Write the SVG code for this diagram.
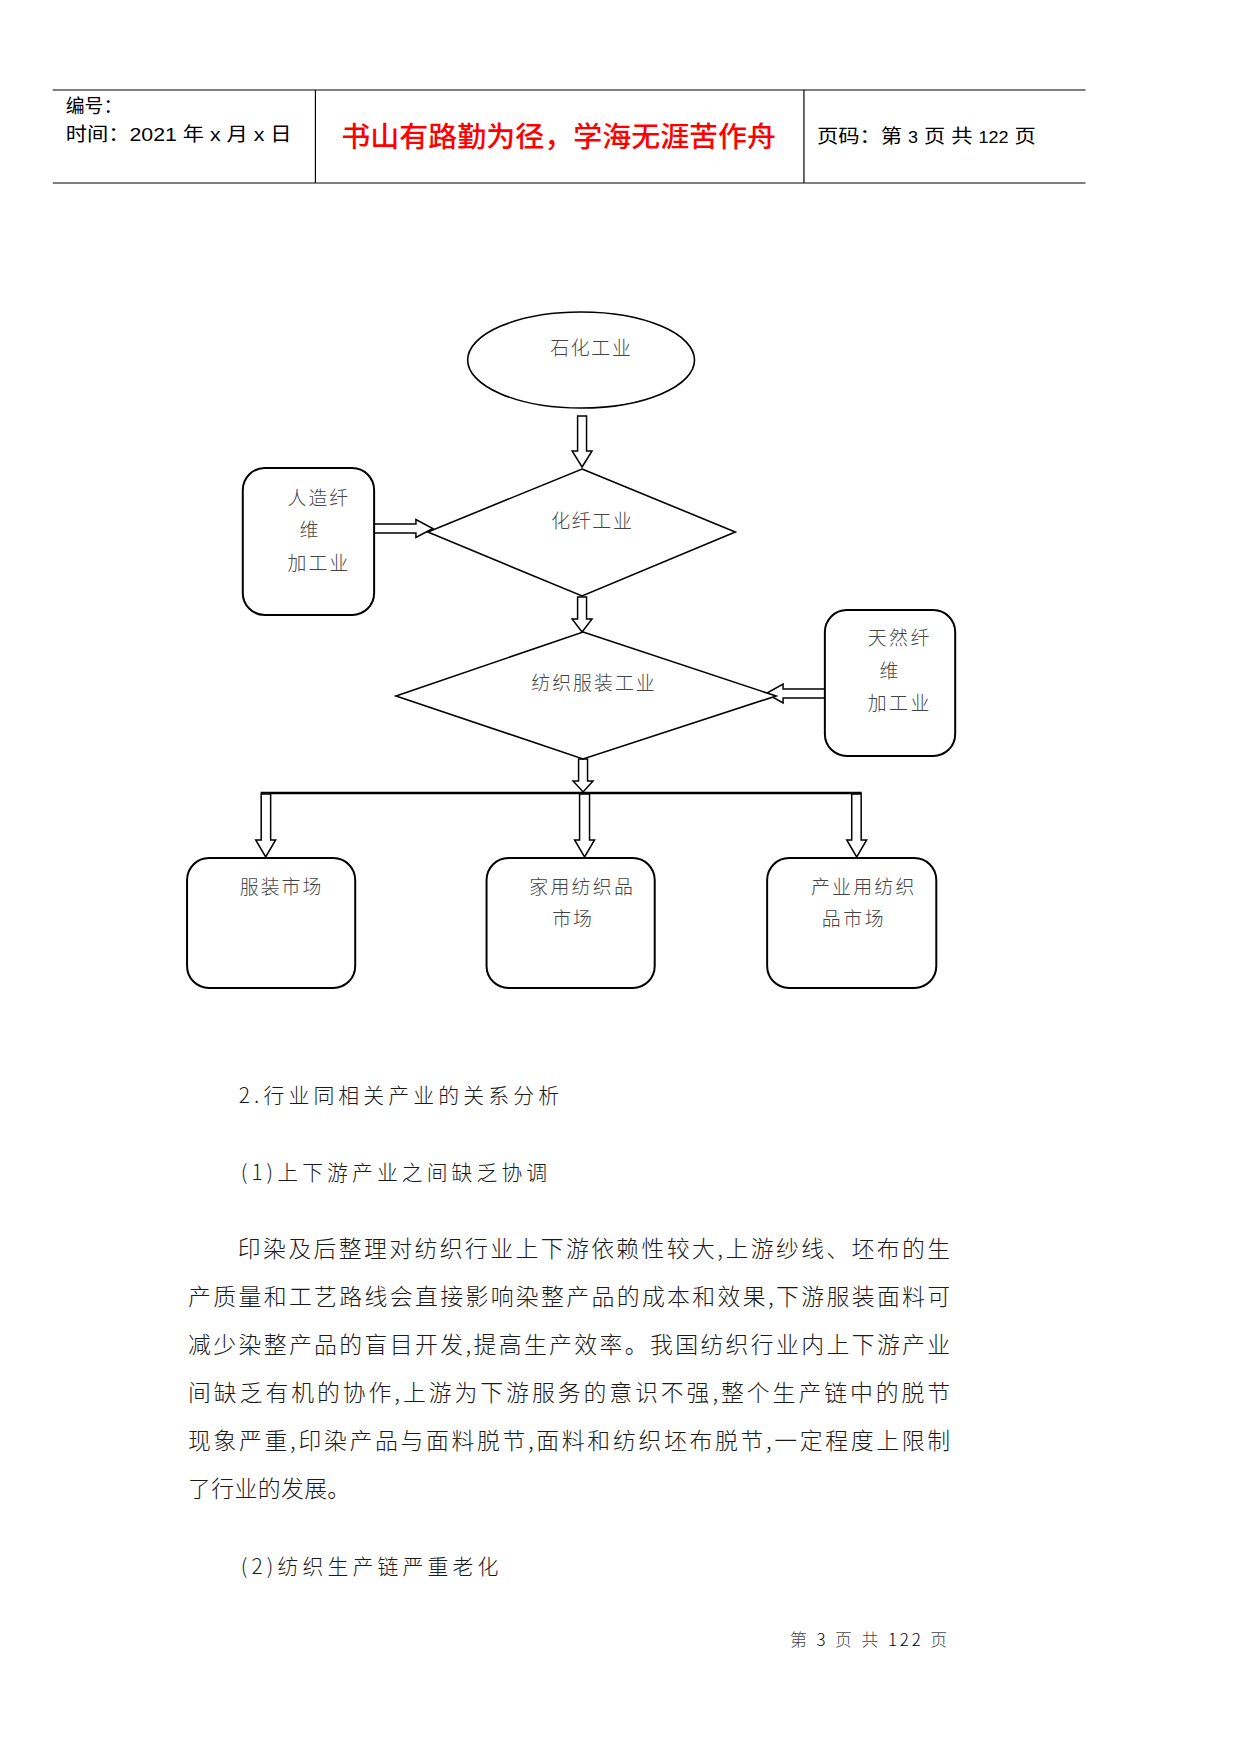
<svg xmlns="http://www.w3.org/2000/svg" width="1241" height="1754" viewBox="0 0 1241 1754">
<style>
.hdr{font-family:"Liberation Sans","Noto Sans CJK SC",sans-serif;font-size:19px;fill:#000}
.title{font-family:"Noto Sans CJK SC",sans-serif;font-size:28px;fill:#ff0000;font-weight:500}
.lbl{font-family:"Noto Sans CJK SC",sans-serif;font-size:19px;fill:#444;font-weight:300}
.body{font-family:"Noto Sans CJK SC",sans-serif;font-size:23px;fill:#1a1a1a;font-weight:300}
.head{font-family:"Noto Sans CJK SC",sans-serif;font-size:21px;fill:#1a1a1a;font-weight:300}
.foot{font-family:"Noto Sans CJK SC",sans-serif;font-size:17px;fill:#444;font-weight:300}
.shape{fill:#fff;stroke:#000;stroke-width:1.6}
.box{fill:#fff;stroke:#000;stroke-width:2}
.arr{fill:#fff;stroke:#000;stroke-width:1.5;stroke-linejoin:miter}
.rule{stroke:#000;stroke-width:1.2}
</style>
<rect width="1241" height="1754" fill="#fff"/>
<g transform="matrix(0.995 0 0 1 0 0)">
<g id="header">
<line class="rule" x1="53" y1="90" x2="1091" y2="90"/>
<line class="rule" x1="53" y1="183" x2="1091" y2="183"/>
<line class="rule" x1="317" y1="90" x2="317" y2="183"/>
<line class="rule" x1="808" y1="90" x2="808" y2="183"/>
<text class="hdr" x="66" y="113">编号：</text>
<text class="hdr" x="66" y="141" textLength="227" lengthAdjust="spacingAndGlyphs">时间：2021 年 x 月 x 日</text>
<text class="title" x="343" y="147" textLength="437" lengthAdjust="spacingAndGlyphs">书山有路勤为径，学海无涯苦作舟</text>
<text class="hdr" x="821" y="143" textLength="220" lengthAdjust="spacingAndGlyphs">页码：第 <tspan font-size="16">3</tspan> 页  共 <tspan font-size="16">122</tspan> 页</text>
</g>
<g id="connectors">
<path class="arr" d="M580.5,416 L589.5,416 L589.5,451 L595,451 L585,467 L575,451 L580.5,451 Z"/>
<path class="arr" d="M376,524 L418,524 L418,519.5 L435,528.5 L418,537.5 L418,533 L376,533 Z"/>
<path class="arr" d="M580.5,597 L589.5,597 L589.5,619 L595,619 L585,632 L575,619 L580.5,619 Z"/>
<path class="arr" d="M829,689 L787,689 L787,684 L770,693.5 L787,703 L787,698 L829,698 Z"/>
<path class="arr" d="M581.5,759 L590.5,759 L590.5,781 L596,781 L586,792 L576,781 L581.5,781 Z"/>
<line x1="262" y1="793" x2="866" y2="793" stroke="#000" stroke-width="2.6"/>
<path class="arr" d="M262.5,794 L272,794 L272,840 L277,840 L267,857 L257,840 L262.5,840 Z"/>
<path class="arr" d="M582.5,794 L592.5,794 L592.5,840 L597.5,840 L587.5,857 L577.5,840 L582.5,840 Z"/>
<path class="arr" d="M856,794 L865.5,794 L865.5,840 L871,840 L861,857 L851,840 L856,840 Z"/>
</g>
<g id="node-shihua">
<ellipse class="shape" cx="584" cy="360" rx="114" ry="48"/>
<text class="lbl" x="553" y="355" textLength="81" lengthAdjust="spacing">石化工业</text>
</g>
<g id="node-huaxian">
<polygon class="shape" points="585,469 739,532 585,596 430,532" stroke-width="1.4"/>
<text class="lbl" x="554" y="528" textLength="81" lengthAdjust="spacing">化纤工业</text>
</g>
<g id="node-renzao">
<rect class="box" x="244" y="468" width="132" height="147" rx="22" ry="22"/>
<text class="lbl" x="289" y="505" textLength="61" lengthAdjust="spacing">人造纤</text>
<text class="lbl" x="301" y="537">维</text>
<text class="lbl" x="289" y="570" textLength="61" lengthAdjust="spacing">加工业</text>
</g>
<g id="node-fangzhi">
<polygon class="shape" points="586,632 780,696 586,759 398,696" stroke-width="1.4"/>
<text class="lbl" x="534" y="690" textLength="124" lengthAdjust="spacing">纺织服装工业</text>
</g>
<g id="node-tianran">
<rect class="box" x="829" y="610" width="131" height="146" rx="22" ry="22"/>
<text class="lbl" x="872" y="645" textLength="62" lengthAdjust="spacing">天然纤</text>
<text class="lbl" x="884" y="678">维</text>
<text class="lbl" x="872" y="710" textLength="62" lengthAdjust="spacing">加工业</text>
</g>
<g id="node-fuzhuang">
<rect class="box" x="188" y="858" width="169" height="130" rx="22" ry="22"/>
<text class="lbl" x="241" y="894" textLength="82" lengthAdjust="spacing">服装市场</text>
</g>
<g id="node-jiayong">
<rect class="box" x="489" y="858" width="169" height="130" rx="22" ry="22"/>
<text class="lbl" x="532" y="894" textLength="104" lengthAdjust="spacing">家用纺织品</text>
<text class="lbl" x="555" y="926" textLength="40" lengthAdjust="spacing">市场</text>
</g>
<g id="node-chanye">
<rect class="box" x="771" y="858" width="170" height="130" rx="22" ry="22"/>
<text class="lbl" x="815" y="894" textLength="104" lengthAdjust="spacing">产业用纺织</text>
<text class="lbl" x="826" y="926" textLength="62" lengthAdjust="spacing">品市场</text>
</g>
<g id="body-text">
<text class="head" x="240" y="1103" textLength="322" lengthAdjust="spacing">2.行业同相关产业的关系分析</text>
<text class="head" x="242" y="1180" textLength="308" lengthAdjust="spacing">(1)上下游产业之间缺乏协调</text>
<text class="body" x="239" y="1257" textLength="716" lengthAdjust="spacing">印染及后整理对纺织行业上下游依赖性较大,上游纱线、坯布的生</text>
<text class="body" x="189" y="1305" textLength="766" lengthAdjust="spacing">产质量和工艺路线会直接影响染整产品的成本和效果,下游服装面料可</text>
<text class="body" x="189" y="1353" textLength="766" lengthAdjust="spacing">减少染整产品的盲目开发,提高生产效率。我国纺织行业内上下游产业</text>
<text class="body" x="189" y="1401" textLength="766" lengthAdjust="spacing">间缺乏有机的协作,上游为下游服务的意识不强,整个生产链中的脱节</text>
<text class="body" x="189" y="1449" textLength="766" lengthAdjust="spacing">现象严重,印染产品与面料脱节,面料和纺织坯布脱节,一定程度上限制</text>
<text class="body" x="189" y="1497" textLength="163" lengthAdjust="spacing">了行业的发展。</text>
<text class="head" x="242" y="1574" textLength="259" lengthAdjust="spacing">(2)纺织生产链严重老化</text>
</g>
<g id="footer">
<text class="foot" x="794" y="1646" textLength="158" lengthAdjust="spacing">第 <tspan fill="#000">3</tspan> 页 共 <tspan fill="#000">122</tspan> 页</text>
</g>
</g>
</svg>
